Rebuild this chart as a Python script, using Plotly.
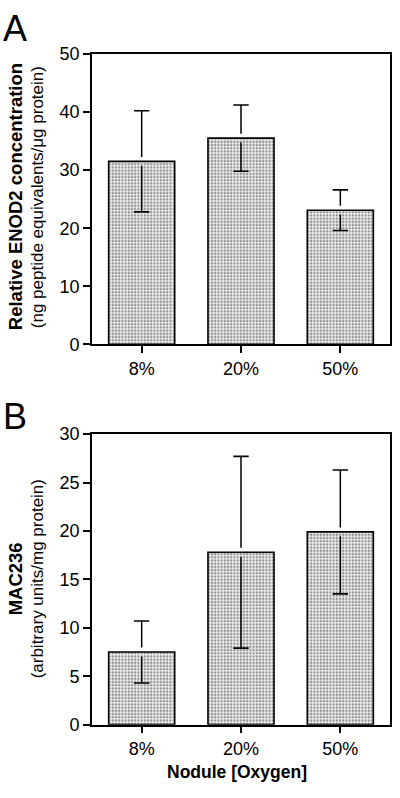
import plotly.graph_objects as go

categories = ["8%", "20%", "50%"]
enod2_values = [31.5, 35.5, 23.1]
enod2_errors = [8.7, 5.7, 3.5]
mac236_values = [7.5, 17.8, 19.9]
mac236_errors = [3.2, 9.9, 6.4]
enod2_ticks = [0, 10, 20, 30, 40, 50]
mac236_ticks = [0, 5, 10, 15, 20, 25, 30]

W, H = 400, 798
FONT = "Liberation Sans, Arial, Helvetica, sans-serif"


def px_x(x):
    return x / W


def px_y(y):
    return 1 - y / H


xpos = list(range(len(categories)))

fig = go.Figure()

pattern = dict(shape=".", fgcolor="#333333", bgcolor="#ebebeb", size=3.2, solidity=0.4)

panels = [
    (enod2_values, enod2_errors, "x", "y", 50, 343 - 45),
    (mac236_values, mac236_errors, "x2", "y2", 30, 733 - 435),
]

for vals, errs, xa, ya, ymax, hpx in panels:
    fig.add_trace(go.Bar(
        x=xpos, y=vals, xaxis=xa, yaxis=ya, width=0.665,
        marker=dict(color="#ebebeb", pattern=pattern,
                    line=dict(color="black", width=1.6)),
        showlegend=False, hoverinfo="skip",
    ))
    gap = 4.5 * ymax / hpx  # gap in data units around bar top
    lx, ly, cx, cy = [], [], [], []
    for i, (v, e) in enumerate(zip(vals, errs)):
        lx += [i, i, None, i, i, None]
        ly += [v + gap, v + e, None, v - gap, v - e, None]
        cx += [i, i]
        cy += [v + e, v - e]
    fig.add_trace(go.Scatter(
        x=lx, y=ly, xaxis=xa, yaxis=ya, mode="lines",
        line=dict(color="black", width=1.5), showlegend=False, hoverinfo="skip",
    ))
    fig.add_trace(go.Scatter(
        x=cx, y=cy, xaxis=xa, yaxis=ya, mode="markers",
        marker=dict(symbol="line-ew", size=11, line=dict(color="black", width=1.6)),
        showlegend=False, hoverinfo="skip",
    ))

xdom = [px_x(92), px_x(390)]
axis_common = dict(showline=True, linecolor="black", linewidth=1.6, mirror=True,
                   ticks="outside", ticklen=7, tickwidth=1.5, tickcolor="black",
                   showgrid=False, zeroline=False,
                   tickfont=dict(family=FONT, size=18, color="black"))
xaxis_extra = dict(range=[-0.5, 2.5], tickvals=xpos, ticktext=categories)

fig.update_layout(
    width=W, height=H, margin=dict(l=0, r=0, t=0, b=0),
    paper_bgcolor="white", plot_bgcolor="white",
    font=dict(family=FONT, color="black"),
    xaxis=dict(domain=xdom, anchor="y", **xaxis_extra, **axis_common),
    yaxis=dict(domain=[px_y(343), px_y(45)], anchor="x", range=[0, 50],
               tickvals=enod2_ticks, **axis_common),
    xaxis2=dict(domain=xdom, anchor="y2", **xaxis_extra, **axis_common),
    yaxis2=dict(domain=[px_y(733), px_y(435)], anchor="x2", range=[0, 30],
                tickvals=mac236_ticks, **axis_common),
)

ann = [
    dict(text="A", x=px_x(1), y=px_y(-4), xanchor="left", yanchor="top",
         font=dict(size=36, family=FONT)),
    dict(text="B", x=px_x(1), y=px_y(394), xanchor="left", yanchor="top",
         font=dict(size=36, family=FONT)),
    dict(text="<b>Relative ENOD2 concentration</b>", x=px_x(15), y=px_y(192),
         textangle=-90, xanchor="center", yanchor="middle", font=dict(size=18.5, family=FONT)),
    dict(text="(ng peptide equivalents/μg protein)", x=px_x(37), y=px_y(192),
         textangle=-90, xanchor="center", yanchor="middle", font=dict(size=17, family=FONT)),
    dict(text="<b>MAC236</b>", x=px_x(15), y=px_y(584),
         textangle=-90, xanchor="center", yanchor="middle", font=dict(size=18.5, family=FONT)),
    dict(text="(arbitrary units/mg protein)", x=px_x(37), y=px_y(584),
         textangle=-90, xanchor="center", yanchor="middle", font=dict(size=17, family=FONT)),
    dict(text="<b>Nodule [Oxygen]</b>", x=px_x(237), y=px_y(782),
         xanchor="center", yanchor="middle", font=dict(size=17.5, family=FONT)),
]
for a in ann:
    a.update(xref="paper", yref="paper", showarrow=False)
fig.update_layout(annotations=ann)

fig.write_html("out.html", config={"displayModeBar": False},
               post_script="document.body.style.margin='0';document.body.style.overflow='hidden';")
